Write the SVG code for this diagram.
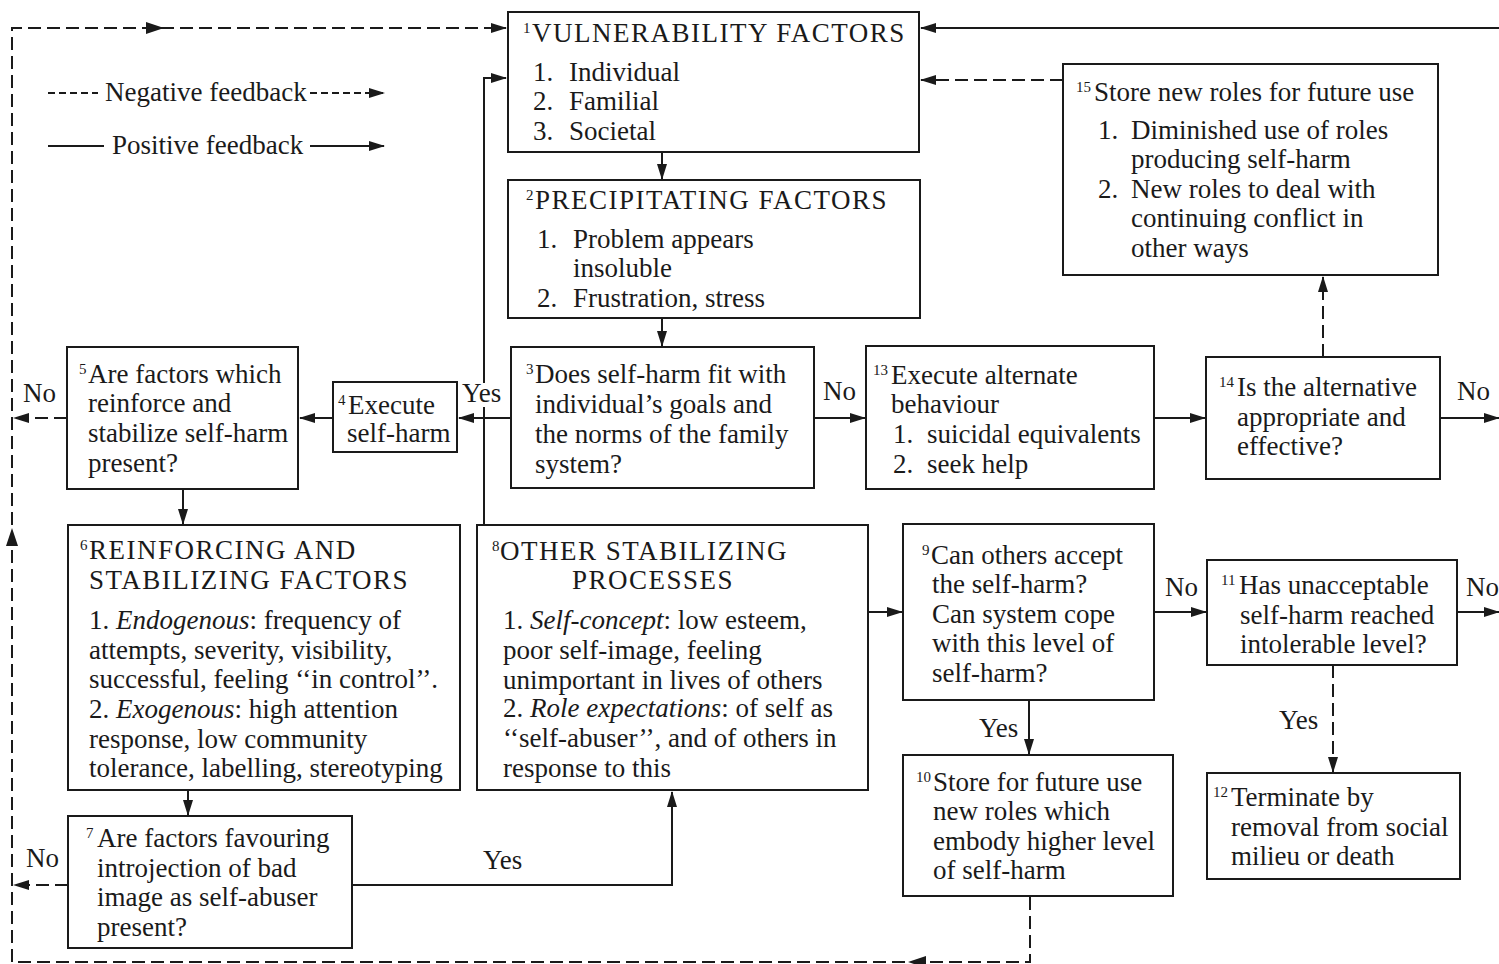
<svg xmlns="http://www.w3.org/2000/svg" width="1499" height="964" viewBox="0 0 1499 964">
<defs>
<style>
.box{fill:#fff;stroke:#1a1a1a;stroke-width:2}
.t{font-family:"Liberation Serif",serif;font-size:27px;fill:#1a1a1a}
.cap{letter-spacing:1.5px}
.sup{font-family:"Liberation Serif",serif;font-size:15px;fill:#1a1a1a}
.ln{fill:none;stroke:#1a1a1a;stroke-width:2}
.ds{fill:none;stroke:#1a1a1a;stroke-width:2;stroke-dasharray:13 6}
.dl{fill:none;stroke:#1a1a1a;stroke-width:2;stroke-dasharray:7 4}
.ah{fill:#1a1a1a}
</style>
<marker id="a" markerWidth="16" markerHeight="10" refX="15" refY="5" orient="auto" markerUnits="userSpaceOnUse">
<path d="M0,0 L16,5 L0,10 Z" fill="#1a1a1a"/>
</marker>
</defs>
<rect width="1499" height="964" fill="#fff"/>

<g id="connectors">
<!-- outer negative feedback loop -->
<path class="ds" d="M1030,897 V962 H12 V28 H506" marker-end="url(#a)"/>
<path class="ah" d="M146,22 L164,28 L146,34 Z"/>
<path class="ah" d="M6,546 L12,528 L18,546 Z"/>
<path class="ah" d="M926,956 L908,962 L926,968 Z"/>
<!-- top positive feedback from right -->
<path class="ln" d="M1499,28 H921" marker-end="url(#a)"/>
<!-- 15 -> 1 -->
<path class="ds" d="M1063,80 H921" marker-end="url(#a)"/>
<!-- 8 -> 1 vertical -->
<path class="ln" d="M484,525 V78 H506" marker-end="url(#a)"/>
<!-- 1 -> 2 -> 3 -->
<path class="ln" d="M662,152 V179" marker-end="url(#a)"/>
<path class="ln" d="M662,318 V346" marker-end="url(#a)"/>
<!-- 3 -> 4 -> 5 -->
<path class="ln" d="M511,418 H459" marker-end="url(#a)"/>
<path class="ln" d="M333,418 H300" marker-end="url(#a)"/>
<!-- 5 No -->
<path class="ds" d="M67,418 H14" marker-end="url(#a)"/>
<!-- 5 -> 6 -> 7 -->
<path class="ln" d="M183,489 V524" marker-end="url(#a)"/>
<path class="ln" d="M188,790 V815" marker-end="url(#a)"/>
<!-- 7 No -->
<path class="ds" d="M68,885 H14" marker-end="url(#a)"/>
<!-- 7 Yes -> 8 -->
<path class="ln" d="M352,885 H672 V792" marker-end="url(#a)"/>
<!-- 8 -> 9 -->
<path class="ln" d="M868,612 H902" marker-end="url(#a)"/>
<!-- 3 No -> 13 -> 14 -->
<path class="ln" d="M814,418 H865" marker-end="url(#a)"/>
<path class="ln" d="M1154,418 H1205" marker-end="url(#a)"/>
<!-- 14 -> 15 -->
<path class="ds" d="M1323,357 V277" marker-end="url(#a)"/>
<!-- 14 No -->
<path class="ln" d="M1440,418 H1499" marker-end="url(#a)"/>
<!-- 9 No -> 11 -->
<path class="ln" d="M1154,612 H1206" marker-end="url(#a)"/>
<!-- 11 No -->
<path class="ln" d="M1457,612 H1499" marker-end="url(#a)"/>
<!-- 11 Yes -> 12 -->
<path class="ds" d="M1333,665 V772" marker-end="url(#a)"/>
<!-- 9 Yes -> 10 -->
<path class="ln" d="M1029,700 V754" marker-end="url(#a)"/>
<!-- labels -->
<rect x="462" y="383" width="42" height="24" fill="#fff"/>
<text class="t" x="462" y="402">Yes</text>
<text class="t" x="23" y="402">No</text>
<text class="t" x="823" y="400">No</text>
<text class="t" x="1457" y="400">No</text>
<text class="t" x="483" y="869">Yes</text>
<text class="t" x="26" y="867">No</text>
<text class="t" x="1165" y="596">No</text>
<text class="t" x="1466" y="596">No</text>
<text class="t" x="979" y="737">Yes</text>
<text class="t" x="1279" y="729">Yes</text>
</g>

<g id="legend">
<path class="dl" d="M48,93 H98"/>
<text class="t" x="105" y="101">Negative feedback</text>
<path class="dl" d="M310,93 H384" marker-end="url(#a)"/>
<path class="ln" d="M48,146 H104"/>
<text class="t" x="112" y="154">Positive feedback</text>
<path class="ln" d="M310,146 H384" marker-end="url(#a)"/>
</g>

<g id="n1">
<rect class="box" x="508" y="12" width="411" height="140"/>
<text class="sup" x="523" y="33">1</text>
<text class="t cap" x="532" y="42">VULNERABILITY FACTORS</text>
<text class="t" x="533" y="81">1.</text><text class="t" x="569" y="81">Individual</text>
<text class="t" x="533" y="110">2.</text><text class="t" x="569" y="110">Familial</text>
<text class="t" x="533" y="140">3.</text><text class="t" x="569" y="140">Societal</text>
</g>

<g id="n2">
<rect class="box" x="508" y="180" width="412" height="138"/>
<text class="sup" x="526" y="200">2</text>
<text class="t cap" x="535" y="209">PRECIPITATING FACTORS</text>
<text class="t" x="537" y="248">1.</text><text class="t" x="573" y="248">Problem appears</text>
<text class="t" x="573" y="277">insoluble</text>
<text class="t" x="537" y="307">2.</text><text class="t" x="573" y="307">Frustration, stress</text>
</g>

<g id="n3">
<rect class="box" x="511" y="347" width="303" height="141"/>
<text class="sup" x="526" y="374">3</text>
<text class="t" x="535" y="383">Does self-harm fit with</text>
<text class="t" x="535" y="413">individual’s goals and</text>
<text class="t" x="535" y="443">the norms of the family</text>
<text class="t" x="535" y="473">system?</text>
</g>

<g id="n4">
<rect class="box" x="333" y="382" width="124" height="70"/>
<text class="sup" x="338" y="405">4</text>
<text class="t" x="348" y="414">Execute</text>
<text class="t" x="347" y="442">self-harm</text>
</g>

<g id="n5">
<rect class="box" x="67" y="347" width="231" height="142"/>
<text class="sup" x="79" y="374">5</text>
<text class="t" x="88" y="383">Are factors which</text>
<text class="t" x="88" y="412">reinforce and</text>
<text class="t" x="88" y="442">stabilize self-harm</text>
<text class="t" x="88" y="472">present?</text>
</g>

<g id="n6">
<rect class="box" x="68" y="525" width="392" height="265"/>
<text class="sup" x="80" y="550">6</text>
<text class="t cap" x="89" y="559">REINFORCING AND</text>
<text class="t cap" x="89" y="589">STABILIZING FACTORS</text>
<text class="t" x="89" y="629">1.  <tspan font-style="italic">Endogenous</tspan>: frequency of</text>
<text class="t" x="89" y="659">attempts, severity, visibility,</text>
<text class="t" x="89" y="688">successful, feeling ‘‘in control’’.</text>
<text class="t" x="89" y="718">2.  <tspan font-style="italic">Exogenous</tspan>: high attention</text>
<text class="t" x="89" y="748">response, low community</text>
<text class="t" x="89" y="777">tolerance, labelling, stereotyping</text>
</g>

<g id="n7">
<rect class="box" x="68" y="816" width="284" height="132"/>
<text class="sup" x="86" y="838">7</text>
<text class="t" x="97" y="847">Are factors favouring</text>
<text class="t" x="97" y="877">introjection of bad</text>
<text class="t" x="97" y="906">image as self-abuser</text>
<text class="t" x="97" y="936">present?</text>
</g>

<g id="n8">
<rect class="box" x="477" y="525" width="391" height="265"/>
<text class="sup" x="492" y="551">8</text>
<text class="t cap" x="500" y="560">OTHER STABILIZING</text>
<text class="t cap" x="653" y="589" text-anchor="middle">PROCESSES</text>
<text class="t" x="503" y="629">1.  <tspan font-style="italic">Self-concept</tspan>: low esteem,</text>
<text class="t" x="503" y="659">poor self-image, feeling</text>
<text class="t" x="503" y="689">unimportant in lives of others</text>
<text class="t" x="503" y="717">2.  <tspan font-style="italic">Role expectations</tspan>: of self as</text>
<text class="t" x="503" y="747">‘‘self-abuser’’, and of others in</text>
<text class="t" x="503" y="777">response to this</text>
</g>

<g id="n9">
<rect class="box" x="903" y="524" width="251" height="176"/>
<text class="sup" x="922" y="555">9</text>
<text class="t" x="931" y="564">Can others accept</text>
<text class="t" x="932" y="593">the self-harm?</text>
<text class="t" x="932" y="623">Can system cope</text>
<text class="t" x="932" y="652">with this level of</text>
<text class="t" x="932" y="682">self-harm?</text>
</g>

<g id="n10">
<rect class="box" x="903" y="755" width="270" height="141"/>
<text class="sup" x="916" y="782">10</text>
<text class="t" x="933" y="791">Store for future use</text>
<text class="t" x="933" y="820">new roles which</text>
<text class="t" x="933" y="850">embody higher level</text>
<text class="t" x="933" y="879">of self-harm</text>
</g>

<g id="n11">
<rect class="box" x="1207" y="560" width="250" height="105"/>
<text class="sup" x="1221" y="585">11</text>
<text class="t" x="1239" y="594">Has unacceptable</text>
<text class="t" x="1240" y="624">self-harm reached</text>
<text class="t" x="1240" y="653">intolerable level?</text>
</g>

<g id="n12">
<rect class="box" x="1207" y="773" width="253" height="106"/>
<text class="sup" x="1213" y="797">12</text>
<text class="t" x="1231" y="806">Terminate by</text>
<text class="t" x="1231" y="836">removal from social</text>
<text class="t" x="1231" y="865">milieu or death</text>
</g>

<g id="n13">
<rect class="box" x="866" y="346" width="288" height="143"/>
<text class="sup" x="873" y="375">13</text>
<text class="t" x="891" y="384">Execute alternate</text>
<text class="t" x="891" y="413">behaviour</text>
<text class="t" x="893" y="443">1.</text><text class="t" x="927" y="443">suicidal equivalents</text>
<text class="t" x="893" y="473">2.</text><text class="t" x="927" y="473">seek help</text>
</g>

<g id="n14">
<rect class="box" x="1206" y="357" width="234" height="122"/>
<text class="sup" x="1219" y="387">14</text>
<text class="t" x="1237" y="396">Is the alternative</text>
<text class="t" x="1237" y="426">appropriate and</text>
<text class="t" x="1237" y="455">effective?</text>
</g>

<g id="n15">
<rect class="box" x="1063" y="64" width="375" height="211"/>
<text class="sup" x="1076" y="92">15</text>
<text class="t" x="1094" y="101">Store new roles for future use</text>
<text class="t" x="1098" y="139">1.</text><text class="t" x="1131" y="139">Diminished use of roles</text>
<text class="t" x="1131" y="168">producing self-harm</text>
<text class="t" x="1098" y="198">2.</text><text class="t" x="1131" y="198">New roles to deal with</text>
<text class="t" x="1131" y="227">continuing conflict in</text>
<text class="t" x="1131" y="257">other ways</text>
</g>
</svg>
